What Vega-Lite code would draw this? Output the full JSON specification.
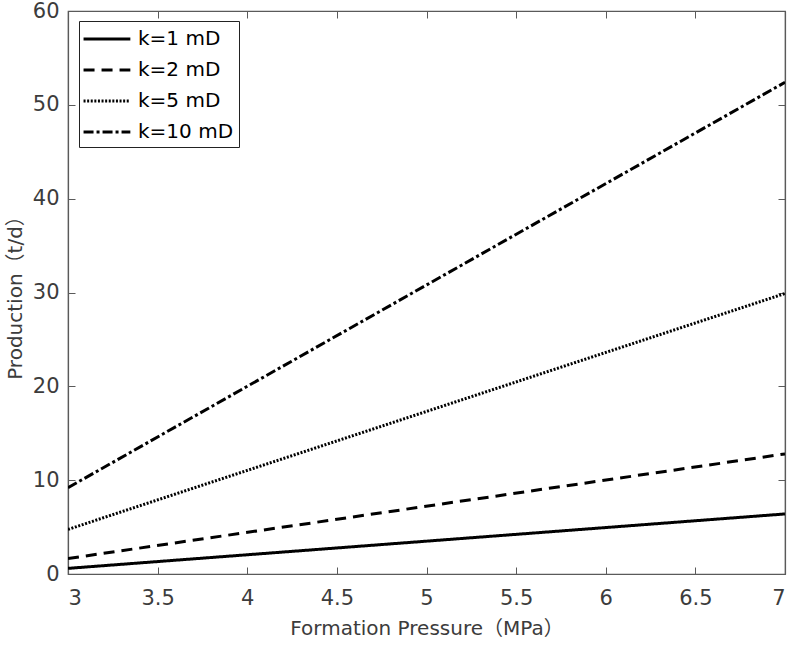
{
  "$schema": "https://vega.github.io/schema/vega-lite/v6.json",
  "width": 717,
  "height": 563,
  "autosize": "none",
  "padding": {"left": 68, "top": 11, "right": 10, "bottom": 72},
  "background": "white",
  "config": {
    "font": "DejaVu Sans",
    "view": {"stroke": "#5a5a5a", "strokeWidth": 1.2},
    "axis": {
      "domainColor": "#5a5a5a",
      "domainWidth": 1.2,
      "tickColor": "#5a5a5a",
      "tickSize": -7,
      "tickWidth": 1,
      "labelColor": "#3c3c3c",
      "labelFont": "DejaVu Sans",
      "labelFontSize": 21,
      "titleColor": "#3c3c3c",
      "titleFont": "DejaVu Sans, Noto Sans CJK SC",
      "titleFontSize": 20,
      "titleFontWeight": "normal",
      "grid": false
    }
  },
  "data": {
    "values": [
      {"series": "k=1 mD", "pressure": 3, "production": 0.6},
      {"series": "k=1 mD", "pressure": 7, "production": 6.4},
      {"series": "k=2 mD", "pressure": 3, "production": 1.65},
      {"series": "k=2 mD", "pressure": 7, "production": 12.8},
      {"series": "k=5 mD", "pressure": 3, "production": 4.75},
      {"series": "k=5 mD", "pressure": 7, "production": 29.9},
      {"series": "k=10 mD", "pressure": 3, "production": 9.2},
      {"series": "k=10 mD", "pressure": 7, "production": 52.4}
    ]
  },
  "layer": [
    {
      "mark": {"type": "line", "color": "black", "strokeWidth": 3, "clip": true},
      "encoding": {
        "x": {
          "field": "pressure",
          "type": "quantitative",
          "scale": {"domain": [3, 7], "nice": false, "zero": false},
          "axis": {
            "orient": "bottom",
            "values": [3, 3.5, 4, 4.5, 5, 5.5, 6, 6.5, 7],
            "format": "~g",
            "labelPadding": 20,
            "title": "Formation Pressure（MPa）",
            "titlePadding": 10
          }
        },
        "y": {
          "field": "production",
          "type": "quantitative",
          "scale": {"domain": [0, 60], "nice": false},
          "axis": {
            "orient": "left",
            "values": [0, 10, 20, 30, 40, 50, 60],
            "labelPadding": 16,
            "title": "Production（t/d）",
            "titlePadding": 7
          }
        },
        "strokeDash": {
          "field": "series",
          "type": "nominal",
          "sort": ["k=1 mD", "k=2 mD", "k=5 mD", "k=10 mD"],
          "scale": {
            "domain": ["k=1 mD", "k=2 mD", "k=5 mD", "k=10 mD"],
            "range": [[1, 0], [11, 7], [2, 1.6], [10, 3, 3, 3]]
          },
          "legend": {
            "title": null,
            "orient": "none",
            "legendX": 11,
            "legendY": 10,
            "symbolType": "M-1.17,0H2.9",
            "symbolSize": 529,
            "symbolStrokeColor": "black",
            "symbolStrokeWidth": 2.8,
            "labelFont": "DejaVu Sans",
            "labelFontSize": 20,
            "labelColor": "black",
            "labelOffset": 28,
            "rowPadding": 8,
            "padding": 5,
            "strokeColor": "#222222",
            "fillColor": "white"
          }
        }
      }
    },
    {
      "mark": {"type": "line", "opacity": 0},
      "encoding": {
        "x": {
          "field": "pressure",
          "type": "quantitative",
          "scale": {"domain": [3, 7], "nice": false, "zero": false},
          "axis": {
            "orient": "top",
            "values": [3, 3.5, 4, 4.5, 5, 5.5, 6, 6.5, 7],
            "labels": false,
            "title": null
          }
        },
        "y": {
          "field": "production",
          "type": "quantitative",
          "scale": {"domain": [0, 60], "nice": false},
          "axis": {
            "orient": "right",
            "values": [0, 10, 20, 30, 40, 50, 60],
            "labels": false,
            "title": null
          }
        },
        "detail": {"field": "series"}
      }
    }
  ],
  "resolve": {"axis": {"x": "independent", "y": "independent"}}
}
